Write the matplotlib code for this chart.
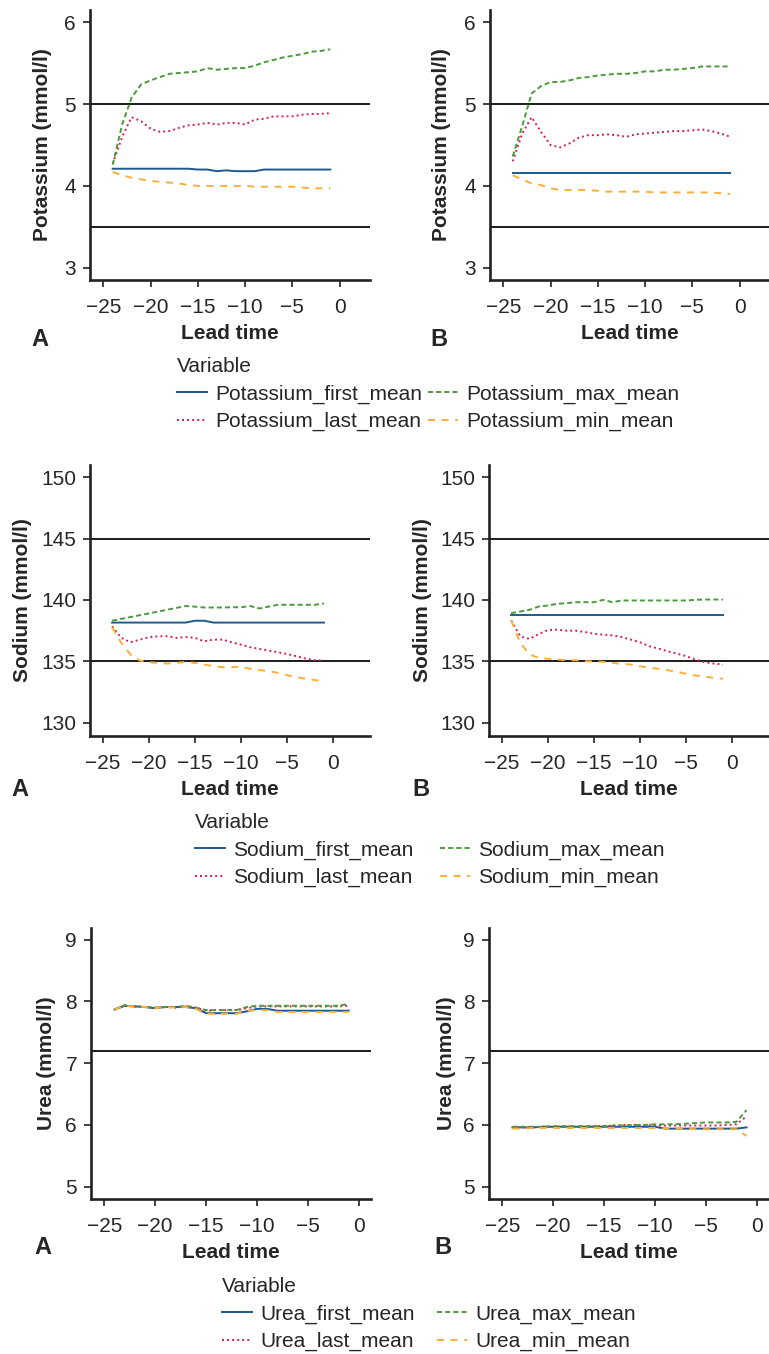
import matplotlib
matplotlib.use("Agg")
import matplotlib.pyplot as plt
from matplotlib.lines import Line2D

plt.rcParams.update({
    "font.family": ["Liberation Sans", "DejaVu Sans"],
    "font.size": 15,
    "axes.spines.top": False, "axes.spines.right": False,
})

W, H = 769, 1354
BLUE, RED, GREEN, ORANGE = "#1d5a8e", "#d81f4e", "#4b9a3c", "#fbae3c"
INK = "#262626"

lead = [-24, -23, -22, -21, -20, -19, -18, -17, -16, -15, -14, -13,
        -12, -11, -10, -9, -8, -7, -6, -5, -4, -3, -2, -1]

# Potassium
K_A_first = [4.21, 4.21, 4.21, 4.21, 4.21, 4.21, 4.21, 4.21, 4.21, 4.20, 4.20, 4.18,
             4.19, 4.18, 4.18, 4.18, 4.20, 4.20, 4.20, 4.20, 4.20, 4.20, 4.20, 4.20]
K_A_last = [4.27, 4.60, 4.84, 4.79, 4.70, 4.66, 4.67, 4.71, 4.74, 4.75, 4.77, 4.75,
            4.77, 4.77, 4.75, 4.81, 4.82, 4.85, 4.85, 4.85, 4.87, 4.88, 4.88, 4.89]
K_A_max = [4.26, 4.75, 5.08, 5.24, 5.29, 5.33, 5.37, 5.38, 5.39, 5.40, 5.44, 5.42,
           5.43, 5.44, 5.44, 5.47, 5.51, 5.54, 5.57, 5.59, 5.61, 5.64, 5.65, 5.67]
K_A_min = [4.17, 4.13, 4.10, 4.08, 4.06, 4.05, 4.04, 4.03, 4.01, 4.00, 4.00, 4.00,
           4.00, 4.00, 4.00, 3.99, 3.99, 3.99, 3.99, 3.99, 3.98, 3.97, 3.97, 3.97]
K_B_first = [4.16, 4.16, 4.16, 4.16, 4.16, 4.16, 4.16, 4.16, 4.16, 4.16, 4.16, 4.16,
             4.16, 4.16, 4.16, 4.16, 4.16, 4.16, 4.16, 4.16, 4.16, 4.16, 4.16, 4.16]
K_B_last = [4.30, 4.64, 4.84, 4.66, 4.50, 4.47, 4.52, 4.59, 4.62, 4.62, 4.63, 4.62,
            4.60, 4.63, 4.64, 4.65, 4.66, 4.67, 4.67, 4.68, 4.69, 4.67, 4.64, 4.60]
K_B_max = [4.36, 4.73, 5.13, 5.22, 5.27, 5.27, 5.29, 5.32, 5.33, 5.35, 5.36, 5.37,
           5.37, 5.38, 5.40, 5.40, 5.42, 5.42, 5.43, 5.44, 5.46, 5.46, 5.46, 5.46]
K_B_min = [4.13, 4.08, 4.03, 4.01, 3.97, 3.95, 3.95, 3.95, 3.95, 3.94, 3.93, 3.93,
           3.93, 3.93, 3.93, 3.92, 3.92, 3.92, 3.92, 3.92, 3.92, 3.92, 3.91, 3.90]

# Sodium
Na_A_first = [138.15, 138.15, 138.15, 138.15, 138.15, 138.15, 138.15, 138.15, 138.15, 138.3, 138.3, 138.15,
              138.15, 138.15, 138.15, 138.15, 138.15, 138.15, 138.15, 138.15, 138.15, 138.15, 138.15, 138.15]
Na_A_last = [137.84, 136.9, 136.54, 136.76, 136.95, 137.03, 137.03, 136.9, 136.97, 136.9, 136.62, 136.76,
             136.76, 136.54, 136.35, 136.14, 136.0, 135.86, 135.73, 135.59, 135.41, 135.22, 135.08, 135.05]
Na_A_max = [138.3, 138.45, 138.6, 138.75, 138.9, 139.05, 139.2, 139.35, 139.5, 139.45, 139.38, 139.38,
            139.38, 139.4, 139.4, 139.5, 139.3, 139.45, 139.6, 139.6, 139.6, 139.6, 139.6, 139.7]
Na_A_min = [137.76, 136.49, 135.54, 135.05, 134.92, 134.86, 134.81, 134.86, 134.95, 134.86, 134.73, 134.59,
            134.51, 134.51, 134.54, 134.38, 134.27, 134.19, 134.05, 133.86, 133.7, 133.57, 133.46, 133.38]
Na_B_first = [138.73, 138.73, 138.73, 138.73, 138.73, 138.73, 138.73, 138.73, 138.73, 138.73, 138.73, 138.73,
              138.73, 138.73, 138.73, 138.73, 138.73, 138.73, 138.73, 138.73, 138.73, 138.73, 138.73, 138.73]
Na_B_last = [138.32, 137.03, 136.81, 137.22, 137.54, 137.57, 137.49, 137.49, 137.38, 137.24, 137.16, 137.11,
             136.97, 136.76, 136.54, 136.22, 136.03, 135.81, 135.62, 135.41, 135.14, 134.92, 134.81, 134.73]
Na_B_max = [138.92, 139.05, 139.19, 139.46, 139.54, 139.68, 139.73, 139.81, 139.81, 139.81, 140.0, 139.81,
            139.95, 139.95, 139.95, 139.95, 139.95, 139.95, 139.95, 139.95, 140.0, 140.03, 140.03, 140.03]
Na_B_min = [138.32, 136.49, 135.54, 135.27, 135.19, 135.14, 135.08, 135.08, 135.0, 134.97, 134.95, 134.86,
            134.78, 134.73, 134.59, 134.46, 134.38, 134.27, 134.14, 133.97, 133.84, 133.73, 133.65, 133.57]

# Urea
U_A_first = [7.87, 7.93, 7.92, 7.91, 7.89, 7.91, 7.91, 7.91, 7.89, 7.81, 7.81, 7.81,
             7.81, 7.84, 7.88, 7.88, 7.85, 7.85, 7.85, 7.85, 7.85, 7.85, 7.85, 7.85]
U_A_last = [7.87, 7.93, 7.92, 7.91, 7.90, 7.91, 7.90, 7.92, 7.90, 7.85, 7.86, 7.86,
            7.86, 7.89, 7.92, 7.92, 7.92, 7.92, 7.92, 7.92, 7.92, 7.92, 7.92, 7.93]
U_A_max = [7.87, 7.94, 7.92, 7.91, 7.90, 7.91, 7.91, 7.93, 7.90, 7.86, 7.86, 7.86,
           7.86, 7.91, 7.93, 7.93, 7.93, 7.93, 7.93, 7.93, 7.93, 7.93, 7.93, 7.96]
U_A_min = [7.87, 7.93, 7.92, 7.91, 7.89, 7.91, 7.90, 7.91, 7.88, 7.80, 7.80, 7.80,
           7.80, 7.85, 7.86, 7.86, 7.83, 7.83, 7.83, 7.83, 7.83, 7.83, 7.83, 7.83]
U_B_first = [5.96, 5.96, 5.96, 5.97, 5.97, 5.97, 5.97, 5.97, 5.97, 5.97, 5.97, 5.97,
             5.97, 5.97, 5.97, 5.94, 5.94, 5.94, 5.94, 5.94, 5.94, 5.94, 5.94, 5.96]
U_B_last = [5.96, 5.96, 5.96, 5.97, 5.97, 5.97, 5.97, 5.97, 5.98, 5.98, 5.99, 6.00,
            6.00, 6.00, 5.99, 5.99, 5.99, 5.99, 5.99, 5.99, 5.99, 6.00, 6.01, 6.14]
U_B_max = [5.97, 5.97, 5.97, 5.97, 5.98, 5.98, 5.98, 5.98, 5.98, 5.98, 5.99, 5.99,
           6.00, 6.00, 6.01, 6.01, 6.01, 6.02, 6.03, 6.04, 6.04, 6.04, 6.05, 6.24]
U_B_min = [5.94, 5.94, 5.95, 5.95, 5.95, 5.95, 5.95, 5.95, 5.95, 5.95, 5.95, 5.95,
           5.95, 5.95, 5.95, 5.94, 5.94, 5.94, 5.93, 5.93, 5.93, 5.93, 5.93, 5.82]

# reference range lines
K_ref = [5.0, 3.5]
Na_ref = [145, 135]
U_ref = [7.2]

x_ticks = [-25, -20, -15, -10, -5, 0]
K_ticks = [3, 4, 5, 6]
Na_ticks = [130, 135, 140, 145, 150]
U_ticks = [5, 6, 7, 8, 9]

STYLES = [
    ("first", BLUE, "-"),
    ("last", RED, (0, (1, 1.6))),
    ("max", GREEN, (0, (2.6, 1.6))),
    ("min", ORANGE, (0, (3.6, 3.4))),
]


def box(l, t, r, b):
    return [l / W, 1 - b / H, (r - l) / W, (b - t) / H]


fig = plt.figure(figsize=(W / 100, H / 100), dpi=100)

rows = [
    dict(name="Potassium", A=[K_A_first, K_A_last, K_A_max, K_A_min],
         B=[K_B_first, K_B_last, K_B_max, K_B_min], refs=K_ref, ylim=(2.85, 6.15), yticks=K_ticks,
         xlim=(-26.4, 3.2), top=10, bottom=280, left=(90, 490), ylab=(43, 442),
         letters=((40, 339), (439, 339)), leg=(177, 357), colsp=0.25),
    dict(name="Sodium", A=[Na_A_first, Na_A_last, Na_A_max, Na_A_min],
         B=[Na_B_first, Na_B_last, Na_B_max, Na_B_min], refs=Na_ref, ylim=(128.9, 151.0), yticks=Na_ticks,
         xlim=(-26.4, 4.0), top=465, bottom=736, left=(90, 489), ylab=(23, 423),
         letters=((20, 789), (421, 789)), leg=(195, 813), colsp=1.25),
    dict(name="Urea", A=[U_A_first, U_A_last, U_A_max, U_A_min],
         B=[U_B_first, U_B_last, U_B_max, U_B_min], refs=U_ref, ylim=(4.8, 9.19), yticks=U_ticks,
         xlim=(-26.3, 1.2), top=928, bottom=1199, left=(91, 489), ylab=(46, 446),
         letters=((43, 1248), (443, 1248)), leg=(222, 1277), colsp=1.05),
]

for row in rows:
    for k, (panel, data) in enumerate([("A", row["A"]), ("B", row["B"])]):
        left = row["left"][k]
        ax = fig.add_axes(box(left, row["top"], left + 280, row["bottom"]))
        for y in row["refs"]:
            ax.axhline(y, color="#1a1a1a", lw=1.4, zorder=1)
        for vals, (_, col, ls) in zip(data, STYLES):
            ax.plot(lead, vals, color=col, ls=ls, lw=1.4, zorder=2)
        ax.set_xlim(*row["xlim"])
        ax.set_ylim(*row["ylim"])
        ax.set_xticks(x_ticks)
        ax.set_yticks(row["yticks"])
        for s in ("left", "bottom"):
            ax.spines[s].set_linewidth(1.9)
            ax.spines[s].set_color("#222222")
        ax.tick_params(direction="out", length=5, width=1.3, color="#333333",
                       labelsize=15, labelcolor=INK, pad=5)
        ax.tick_params(axis="x", pad=8)
        ax.set_xlabel("Lead time", fontsize=15, fontweight="bold", color=INK, labelpad=5)
        ax.set_ylabel(f"{row['name']} (mmol/l)", fontsize=15, fontweight="bold", color=INK,
                      va="center")
        ax.yaxis.set_label_coords((row["ylab"][k] - left) / 280, 0.5)
        lx, ly = row["letters"][k]
        fig.text(lx / W, 1 - ly / H, panel, ha="center", va="center",
                 fontsize=17, fontweight="bold", color=INK)

    handles = [Line2D([], [], color=col, ls=ls, lw=1.4) for _, col, ls in STYLES]
    labels = [f"{row['name']}_{s}_mean" for s, _, _ in STYLES]
    lx, ly = row["leg"]
    leg = fig.legend(handles, labels, title="Variable", ncol=2, loc="upper left",
                     bbox_to_anchor=(lx / W, 1 - ly / H), frameon=False, fontsize=15,
                     title_fontsize=15, handlelength=1.45, handletextpad=0.4,
                     columnspacing=row["colsp"], labelspacing=0.4, borderpad=0,
                     borderaxespad=0, alignment="left", labelcolor=INK)
    leg.get_title().set_color(INK)

fig.savefig("out.png", dpi=100)
